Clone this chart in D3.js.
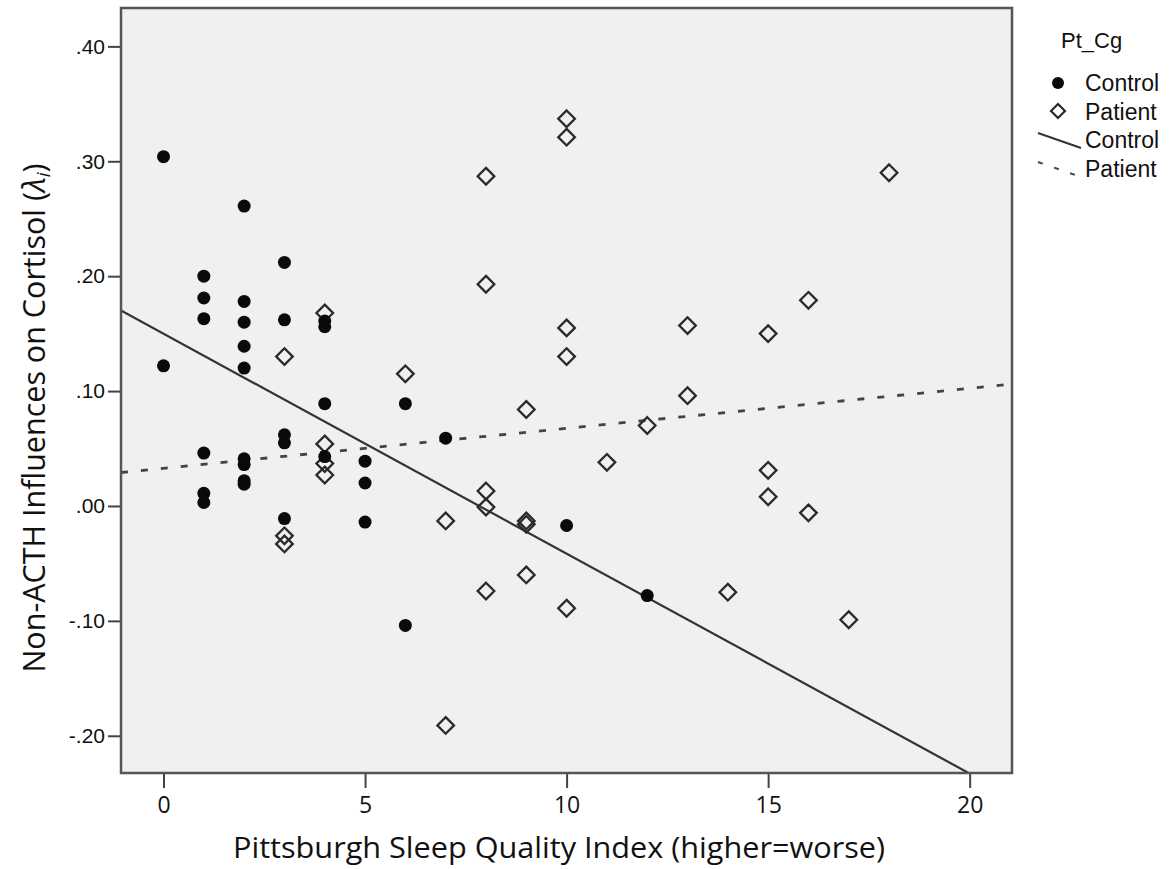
<!DOCTYPE html>
<html>
<head>
  <meta charset="utf-8">
  <script src="https://d3js.org/d3.v7.min.js"></script>
  <style>
    body {
      margin: 0;
      background: #fff;
    }
    .tick line {
      stroke: #444;
      stroke-width: 2;
    }
    .domain {
      display: none;
    }
  </style>
</head>
<body>
  <div id="chartContainer"></div>
  <script type="text/javascript">
    /*
      Data
    */
    var controlX = [0, 0,
                    1, 1, 1, 1, 1, 1,
                    2, 2, 2, 2, 2, 2, 2, 2, 2,
                    3, 3, 3, 3, 3,
                    4, 4, 4, 4,
                    5, 5, 5,
                    6, 6,
                    7,
                    10,
                    12];
    var controlY = [.304, .122,
                    .200, .181, .163, .046, .011, .003,
                    .261, .178, .160, .139, .120, .041, .036, .022, .019,
                    .212, .162, .062, .055, -.011,
                    .161, .156, .089, .043,
                    .039, .020, -.014,
                    .089, -.104,
                    .059,
                    -.017,
                    -.078];

    var patientX = [3, 3, 3,
                    4, 4, 4, 4,
                    6,
                    7, 7,
                    8, 8, 8, 8, 8,
                    9, 9, 9, 9,
                    10, 10, 10, 10, 10,
                    11,
                    12,
                    13, 13,
                    14,
                    15, 15, 15,
                    16, 16,
                    17,
                    18];
    var patientY = [.130, -.026, -.033,
                    .168, .054, .037, .027,
                    .115,
                    -.013, -.191,
                    .287, .193, .013, -.001, -.074,
                    .084, -.013, -.016, -.060,
                    .337, .321, .155, .130, -.089,
                    .038,
                    .070,
                    .157, .096,
                    -.075,
                    .150, .031, .008,
                    .179, -.006,
                    -.099,
                    .290];

    // fit lines per group (intercept, slope)
    var fitGroups = ["Control", "Patient"];
    var fitIntercept = [0.1499, 0.0328];
    var fitSlope = [-0.01914, 0.00348];

    var xTicks = [0, 5, 10, 15, 20];
    var yTicks = [-.20, -.10, .00, .10, .20, .30, .40];

    /*
      Layout
    */
    var width = 1175,
        height = 869,
        plot = { left: 121, right: 1012, top: 8, bottom: 773 };

    var svg = d3.select("#chartContainer")
      .append("svg")
        .attr("width", width)
        .attr("height", height);

    var x = d3.scaleLinear()
      .domain([-1.055, 21.05])
      .range([plot.left, plot.right]);

    var y = d3.scaleLinear()
      .domain([-0.2324, 0.4334])
      .range([plot.bottom, plot.top]);

    // plot background
    svg.append("rect")
      .attr("x", plot.left)
      .attr("y", plot.top)
      .attr("width", plot.right - plot.left)
      .attr("height", plot.bottom - plot.top)
      .attr("fill", "#f0f0f0");

    svg.append("clipPath")
        .attr("id", "plotClip")
      .append("rect")
        .attr("x", plot.left)
        .attr("y", plot.top)
        .attr("width", plot.right - plot.left)
        .attr("height", plot.bottom - plot.top);

    var chart = svg.append("g").attr("clip-path", "url(#plotClip)");

    /* Fit lines */
    var fitStyle = {
      Control: { stroke: "#333", dash: null, width: 2.2 },
      Patient: { stroke: "#444", dash: "7,13", width: 2.8 }
    };

    var xd = x.domain();
    fitGroups.forEach(function (g, i) {
      var pts = xd.map(function (v) { return [v, fitIntercept[i] + fitSlope[i] * v]; });
      chart.append("path")
        .attr("d", d3.line()
          .x(function (d) { return x(d[0]); })
          .y(function (d) { return y(d[1]); })(pts))
        .attr("fill", "none")
        .attr("stroke", fitStyle[g].stroke)
        .attr("stroke-width", fitStyle[g].width)
        .attr("stroke-dasharray", fitStyle[g].dash);
    });

    /* Points */
    var diamond = function (r) {
      return "M0," + (-r) + "L" + r + ",0L0," + r + "L" + (-r) + ",0Z";
    };

    chart.selectAll(".patient")
      .data(d3.range(patientX.length))
      .enter()
      .append("path")
        .attr("class", "patient")
        .attr("transform", function (i) {
          return "translate(" + x(patientX[i]) + "," + y(patientY[i]) + ")";
        })
        .attr("d", diamond(8.3))
        .attr("fill", "none")
        .attr("stroke", "#2a2a2a")
        .attr("stroke-width", 2.3);

    chart.selectAll(".control")
      .data(d3.range(controlX.length))
      .enter()
      .append("circle")
        .attr("class", "control")
        .attr("cx", function (i) { return x(controlX[i]); })
        .attr("cy", function (i) { return y(controlY[i]); })
        .attr("r", 6.5)
        .attr("fill", "#0a0a0a");

    /* Axes */
    // SPSS style: no leading zero, plain hyphen for minus
    var fmt = function (d) {
      return d3.format(".2f")(d).replace("\u2212", "-").replace("0.", ".");
    };

    var yAxis = svg.append("g")
      .attr("transform", "translate(" + plot.left + ",0)")
      .call(d3.axisLeft(y).tickValues(yTicks).tickFormat(fmt)
        .tickSize(13).tickPadding(3));
    yAxis.selectAll("text")
      .attr("font-family", "'Liberation Sans', Arial, sans-serif")
      .attr("font-size", "21px")
      .attr("fill", "#111");

    var xAxis = svg.append("g")
      .attr("transform", "translate(0," + plot.bottom + ")")
      .call(d3.axisBottom(x).tickValues(xTicks).tickFormat(d3.format("d"))
        .tickSize(15).tickPadding(9));
    xAxis.selectAll("text")
      .attr("font-family", "'Open Sans', sans-serif")
      .attr("font-size", "23px")
      .attr("fill", "#111");

    // frame
    svg.append("rect")
      .attr("x", plot.left)
      .attr("y", plot.top)
      .attr("width", plot.right - plot.left)
      .attr("height", plot.bottom - plot.top)
      .attr("fill", "none")
      .attr("stroke", "#555")
      .attr("stroke-width", 2.5);

    /* Axis titles */
    svg.append("text")
      .attr("x", 559)
      .attr("y", 858)
      .attr("text-anchor", "middle")
      .attr("font-family", "'Open Sans', sans-serif")
      .attr("font-size", "30px")
      .attr("textLength", 652)
      .attr("lengthAdjust", "spacingAndGlyphs")
      .attr("fill", "#111")
      .text("Pittsburgh Sleep Quality Index (higher=worse)");

    var yTitle = svg.append("text")
      .attr("transform", "translate(45,418) rotate(-90)")
      .attr("text-anchor", "middle")
      .attr("font-family", "'Open Sans', sans-serif")
      .attr("font-size", "30.5px")
      .attr("fill", "#111");
    yTitle.append("tspan").text("Non-ACTH Influences on Cortisol (");
    yTitle.append("tspan").attr("font-style", "italic").text("λ");
    yTitle.append("tspan").attr("font-style", "italic").attr("font-size", "19px")
      .attr("dy", 5).text("i");
    yTitle.append("tspan").attr("dy", -5).text(")");

    /* Legend */
    var legend = svg.append("g")
      .attr("font-family", "'Liberation Sans', Arial, sans-serif")
      .attr("fill", "#111");

    legend.append("text")
      .attr("x", 1061)
      .attr("y", 48)
      .attr("font-size", "22px")
      .text("Pt_Cg");

    var legendRows = ["Control", "Patient", "Control", "Patient"];
    legend.selectAll(".legend-label")
      .data(legendRows)
      .enter()
      .append("text")
        .attr("class", "legend-label")
        .attr("x", 1085)
        .attr("y", function (d, i) { return 91 + i * 28.5; })
        .attr("font-size", "23px")
        .text(function (d) { return d; });

    legend.append("circle")
      .attr("cx", 1058)
      .attr("cy", 83)
      .attr("r", 6)
      .attr("fill", "#0a0a0a");

    legend.append("path")
      .attr("transform", "translate(1058,111)")
      .attr("d", diamond(7))
      .attr("fill", "none")
      .attr("stroke", "#2a2a2a")
      .attr("stroke-width", 2.2);

    fitGroups.forEach(function (g, i) {
      var y0 = 133 + i * 29;
      legend.append("line")
        .attr("x1", 1038).attr("y1", y0)
        .attr("x2", 1081).attr("y2", y0 + 15)
        .attr("stroke", fitStyle[g].stroke)
        .attr("stroke-width", 2)
        .attr("stroke-dasharray", g === "Patient" ? "5,12" : null);
    });
  </script>
</body>
</html>
